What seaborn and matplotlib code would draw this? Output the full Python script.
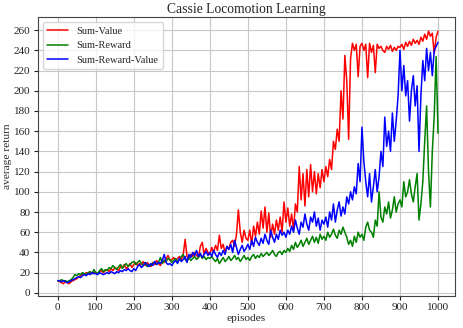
import numpy as np
import pandas as pd
import matplotlib
matplotlib.use("Agg")
import matplotlib.pyplot as plt
import seaborn as sns

episodes = list(range(0, 1001, 5))

sum_value = [
    12, 11, 10, 9, 11, 10, 9, 11, 12, 13, 14, 16, 17, 19, 18, 20, 19, 21, 19, 20,
    20, 19, 21, 22, 20, 22, 23, 21, 24, 22, 25, 24, 22, 26, 25, 28, 24, 26, 29, 25,
    28, 30, 27, 29, 28, 31, 27, 30, 28, 26, 30, 28, 32, 29, 27, 33, 30, 34, 37, 32,
    33, 35, 32, 34, 36, 33, 38, 53, 36, 34, 38, 36, 40, 37, 35, 46, 50, 38, 44, 40,
    38, 45, 40, 47, 42, 57, 44, 48, 40, 46, 43, 50, 52, 46, 58, 82, 60, 50, 62, 54,
    52, 62, 48, 66, 56, 70, 58, 81, 64, 85, 60, 79, 55, 68, 58, 72, 62, 75, 60, 90,
    70, 84, 66, 78, 62, 88, 80, 125, 92, 118, 86, 122, 95, 127, 100, 120, 98, 118, 104, 122,
    110, 125, 115, 132, 122, 150, 142, 162, 150, 200, 172, 235, 210, 152, 232, 247, 240, 246, 214, 244,
    247, 240, 246, 213, 247, 238, 245, 218, 246, 242, 244, 240, 238, 244, 241, 245, 239, 243, 240, 244,
    243, 246, 241, 248, 244, 249, 245, 251, 247, 250, 246, 253, 249, 256, 251, 259, 254, 257, 237, 253,
    259,
]

sum_reward = [
    12, 12, 13, 12, 12, 11, 12, 13, 15, 18, 17, 19, 18, 20, 19, 18, 20, 21, 19, 23,
    20, 19, 22, 24, 21, 23, 22, 25, 24, 27, 25, 23, 26, 28, 24, 27, 29, 26, 28, 30,
    31, 28, 30, 32, 29, 27, 30, 26, 28, 27, 29, 31, 28, 30, 35, 29, 32, 31, 34, 33,
    30, 32, 34, 31, 33, 36, 38, 33, 31, 35, 32, 34, 36, 33, 35, 38, 34, 36, 33, 35,
    34, 36, 33, 31, 34, 29, 32, 35, 31, 33, 36, 32, 34, 37, 33, 35, 31, 34, 37, 33,
    35, 32, 36, 38, 34, 37, 35, 39, 36, 38, 40, 37, 39, 42, 38, 36, 40, 41, 38, 42,
    40, 44, 41, 47, 43, 50, 45, 48, 52, 46, 50, 54, 48, 52, 56, 50, 55, 49, 58, 53,
    56, 52, 60, 55, 58, 63, 57, 54, 62, 58, 65, 60, 55, 48, 52, 46, 56, 50, 60, 55,
    58, 52, 65, 70, 62, 60, 55, 72, 66, 100, 75, 70, 85, 78, 90, 74, 82, 95, 80, 88,
    92, 85, 110, 95, 100, 112, 98, 90, 105, 118, 72, 88, 110, 150, 185, 120, 85, 140, 175, 234,
    158,
]

sum_reward_value = [
    12, 12, 11, 12, 11, 10, 11, 12, 13, 14, 15, 16, 15, 17, 18, 17, 19, 18, 20, 19,
    19, 18, 20, 19, 18, 19, 20, 19, 21, 20, 19, 21, 20, 22, 21, 23, 22, 24, 22, 21,
    24, 22, 26, 28, 25, 27, 30, 28, 26, 29, 27, 31, 28, 30, 29, 32, 38, 30, 28, 29,
    27, 30, 32, 29, 34, 31, 33, 36, 30, 38, 35, 40, 37, 42, 36, 39, 35, 38, 41, 37,
    40, 36, 42, 38, 35, 40, 37, 42, 38, 46, 43, 48, 40, 52, 45, 38, 43, 47, 41, 44,
    48, 43, 52, 46, 55, 50, 47, 54, 49, 58, 52, 48, 62, 55, 50, 58, 53, 62, 57, 60,
    55, 62, 58, 66, 60, 72, 64, 58, 70, 65, 78, 68, 62, 75, 70, 80, 66, 74, 62, 72,
    68, 75, 65, 80, 72, 88, 70, 82, 90, 76, 85, 78, 95, 88, 100, 92, 105, 98, 128, 110,
    164, 130, 110, 95, 118, 90, 105, 122, 100, 115, 140, 125, 174, 145, 160, 140, 178, 150, 170, 195,
    240, 200, 225, 195, 210, 170, 200, 215, 185, 205, 140, 195, 230, 210, 242, 220, 238, 215, 240, 244,
    248,
]

series_names = ["Sum-Value", "Sum-Reward", "Sum-Reward-Value"]
colors = ["red", "green", "blue"]

df = pd.DataFrame({
    "episodes": episodes,
    "Sum-Value": sum_value,
    "Sum-Reward": sum_reward,
    "Sum-Reward-Value": sum_reward_value,
})
long = df.melt(id_vars="episodes", var_name="method", value_name="average return")

sns.set_style("ticks", {"axes.grid": True, "grid.color": "#c8c8c8", "axes.edgecolor": "#444444"})
plt.rcParams["font.family"] = ["Liberation Serif", "DejaVu Serif"]

fig, ax = plt.subplots(figsize=(4.63, 3.28), dpi=100)
sns.lineplot(data=long, x="episodes", y="average return", hue="method",
             hue_order=series_names, palette=colors, linewidth=1.1, ax=ax)

ax.set_xlim(-52, 1045)
ax.set_ylim(-3, 273)
ax.set_xticks(range(0, 1001, 100))
ax.set_yticks(range(0, 261, 20))
ax.tick_params(labelsize=8, length=3, width=0.8, pad=2.5, colors="#222222")
ax.set_xlabel("episodes", fontsize=8.2, labelpad=1)
ax.set_ylabel("average return", fontsize=8.2, labelpad=1)
ax.set_title("Cassie Locomotion Learning", fontsize=9.8, pad=3)
ax.grid(True, color="#c8c8c8", linewidth=0.8)
ax.legend(loc="upper left", fontsize=7.5, frameon=True, fancybox=True, handlelength=2.0)

fig.subplots_adjust(left=0.082, right=0.983, bottom=0.098, top=0.948)
fig.savefig("out.png", dpi=100)
